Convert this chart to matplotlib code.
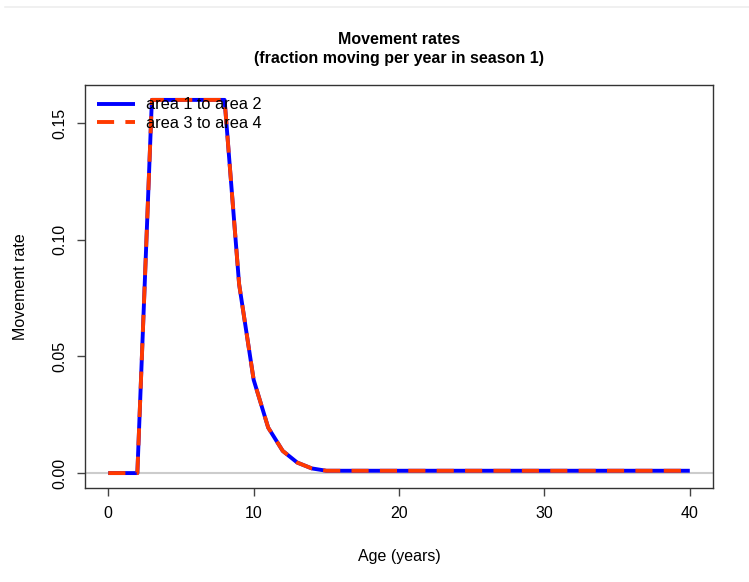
import matplotlib
matplotlib.use("Agg")
import matplotlib.pyplot as plt
from matplotlib.lines import Line2D

plt.rcParams["font.family"] = ["Liberation Sans", "DejaVu Sans"]

# movement rate by age (years), season 1
ages = list(range(0, 41))
rate_1_to_2 = [0.0, 0.0, 0.0, 0.16, 0.16, 0.16, 0.16, 0.16, 0.16,
               0.081, 0.040, 0.0195, 0.0095, 0.0045, 0.002] + [0.001] * 26
rate_3_to_4 = list(rate_1_to_2)
labels = ["area 1 to area 2", "area 3 to area 4"]

fig = plt.figure(figsize=(7.49, 5.82), dpi=100)
ax = fig.add_axes([0.1135, 0.1615, 0.8385, 0.6925])

# faint border at the top of the screenshot
fig.add_artist(Line2D([0.007, 1.0], [0.988, 0.988], color="#eeeeee", lw=1.2,
                      transform=fig.transFigure))

ax.axhline(0, color="#cccccc", lw=1.5, zorder=1)
ax.plot(ages, rate_1_to_2, color="#0000ff", lw=2.8, solid_capstyle="butt",
        label=labels[0], zorder=2)
ax.plot(ages, rate_3_to_4, color="#ff3a00", lw=2.8, dashes=(4.4, 2.9),
        dash_capstyle="butt", label=labels[1], zorder=3)

ax.set_xlim(-1.6, 41.6)
ax.set_ylim(-0.0064, 0.1664)
ax.set_xticks([0, 10, 20, 30, 40])
ax.set_yticks([0.0, 0.05, 0.10, 0.15])
ax.set_yticklabels(["0.00", "0.05", "0.10", "0.15"], rotation=90, va="center")
ax.tick_params(labelsize=11.5, length=6, width=1, color="#444444", pad=7)
for s in ax.spines.values():
    s.set_color("#333333")
    s.set_linewidth(1)

ax.set_xlabel("Age (years)", fontsize=11.5, labelpad=20)
ax.set_ylabel("Movement rate", fontsize=11.5, labelpad=17)
ax.set_title("Movement rates\n(fraction moving per year in season 1)",
             fontsize=11.5, fontweight="bold", pad=16, linespacing=1.35)

ax.legend(loc="upper left", frameon=False, fontsize=11.8, handlelength=2.3,
          borderaxespad=0.35, labelspacing=0.2, handletextpad=0.7,
          bbox_to_anchor=(0.0, 1.0))

fig.savefig("out.png", dpi=100)
